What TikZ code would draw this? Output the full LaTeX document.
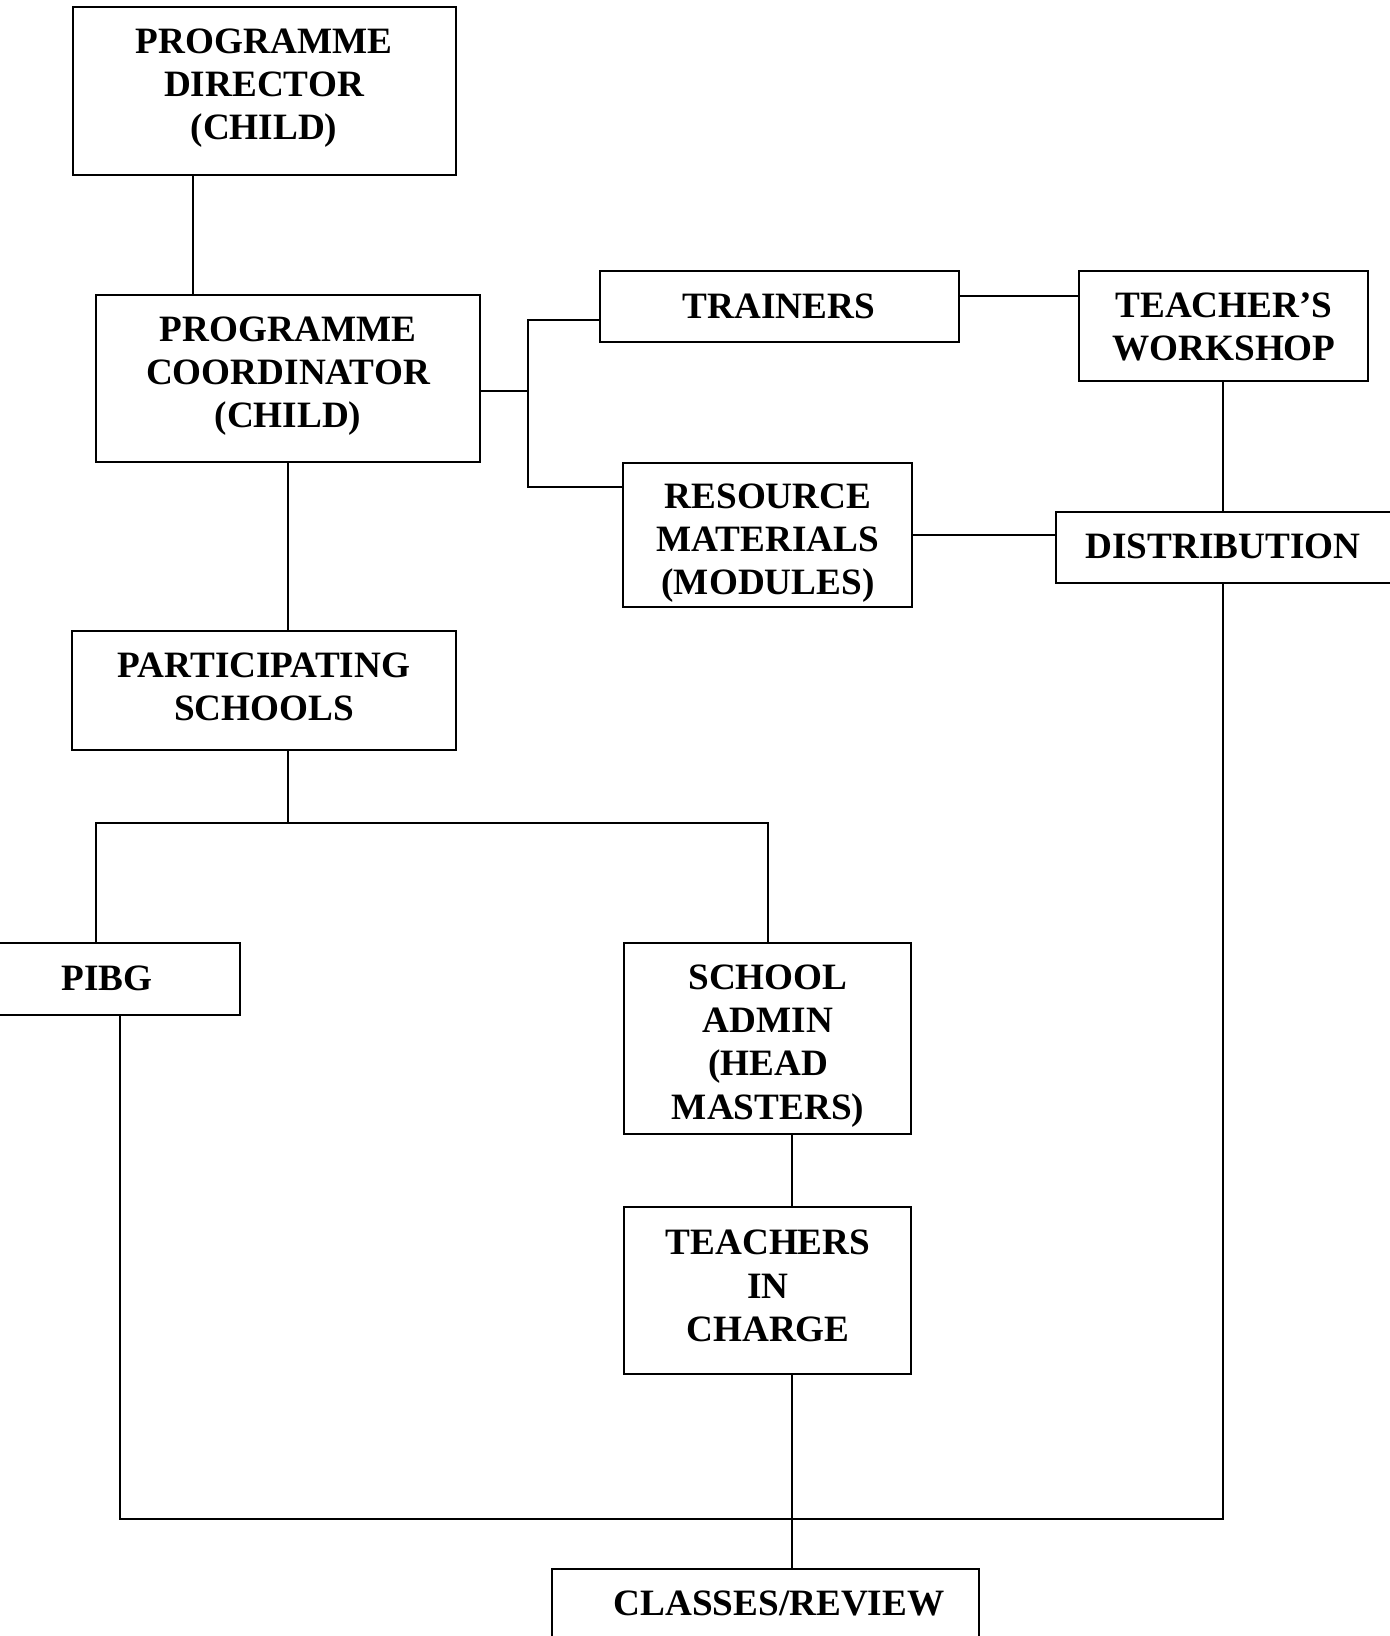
\documentclass[tikz,border=0pt]{standalone}
\usepackage{fontspec}
\setmainfont{Liberation Serif}
\usetikzlibrary{fit}
\begin{document}
\begin{tikzpicture}[x=0.5pt,y=-0.5pt,line width=0.85pt,
  box/.style={draw,inner sep=0pt},
  lbl/.style={font=\fontsize{18.6}{21.6}\selectfont\bfseries,align=center,inner sep=0pt}]
\useasboundingbox (0,0) rectangle (1390,1636);
\clip (0,0) rectangle (1390,1636);
% boxes
\node[box,fit={(73,7) (456,175)}] (dir) {};
\node[box,fit={(96,295) (480,462)}] (coord) {};
\node[box,fit={(600,271) (959,342)}] (train) {};
\node[box,fit={(1079,271) (1368,381)}] (tw) {};
\node[box,fit={(623,463) (912,607)}] (res) {};
\node[box,fit={(1056,512) (1394,583)}] (dist) {};
\node[box,fit={(72,631) (456,750)}] (part) {};
\node[box,fit={(-26,943) (240,1015)}] (pibg) {};
\node[box,fit={(624,943) (911,1134)}] (admin) {};
\node[box,fit={(624,1207) (911,1374)}] (tic) {};
\node[box,fit={(552,1569) (979,1660)}] (cls) {};
% labels
\node[lbl] (tdir) at (264,88) {PROGRAMME\\DIRECTOR\\(CHILD)};
\node[lbl] (tcoord) at (288,376) {PROGRAMME\\COORDINATOR\\(CHILD)};
\node[lbl] (ttrain) at (779,306) {TRAINERS};
\node[lbl] (ttw) at (1224,327) {TEACHER’S\\WORKSHOP};
\node[lbl] (tres) at (768,543) {RESOURCE\\MATERIALS\\(MODULES)};
\node[lbl] (tdist) at (1223,546) {DISTRIBUTION};
\node[lbl] (tpart) at (264,687) {PARTICIPATING\\SCHOOLS};
\node[lbl] (tpibg) at (107,978) {PIBG};
\node[lbl] (tadmin) at (768,1046) {SCHOOL\\ADMIN\\(HEAD\\MASTERS)};
\node[lbl] (ttic) at (768,1286) {TEACHERS\\IN\\CHARGE};
\node[lbl] (tcls) at (779,1603) {CLASSES/REVIEW};
% helper coordinates
\coordinate (xa) at (193,0);
\coordinate (xb) at (528,0);
\coordinate (xc) at (1223,0);
\coordinate (xd) at (288,0);
\coordinate (xe) at (96,0);
\coordinate (xf) at (768,0);
\coordinate (xg) at (792,0);
\coordinate (xh) at (120,0);
\coordinate (ya) at (0,391);
\coordinate (yb) at (0,320);
\coordinate (yc) at (0,487);
\coordinate (yd) at (0,296);
\coordinate (ye) at (0,535);
\coordinate (yf) at (0,1519);
\coordinate (yg) at (0,823);
% connectors
\draw (dir.south -| xa) -- (coord.north -| xa);
\draw (coord.east |- ya) -- (xb |- ya);
\draw (train.west |- yb) -- (xb |- yb) -- (xb |- yc) -- (res.west |- yc);
\draw (train.east |- yd) -- (tw.west |- yd);
\draw (tw.south -| xc) -- (dist.north -| xc);
\draw (res.east |- ye) -- (dist.west |- ye);
\draw (dist.south -| xc) -- (xc |- yf) -- (xh |- yf) -- (pibg.south -| xh);
\draw (coord.south -| xd) -- (part.north -| xd);
\draw (part.south -| xd) -- (xd |- yg);
\draw (pibg.north -| xe) -- (xe |- yg) -- (xf |- yg) -- (admin.north -| xf);
\draw (admin.south -| xg) -- (tic.north -| xg);
\draw (tic.south -| xg) -- (cls.north -| xg);
\end{tikzpicture}
\end{document}
